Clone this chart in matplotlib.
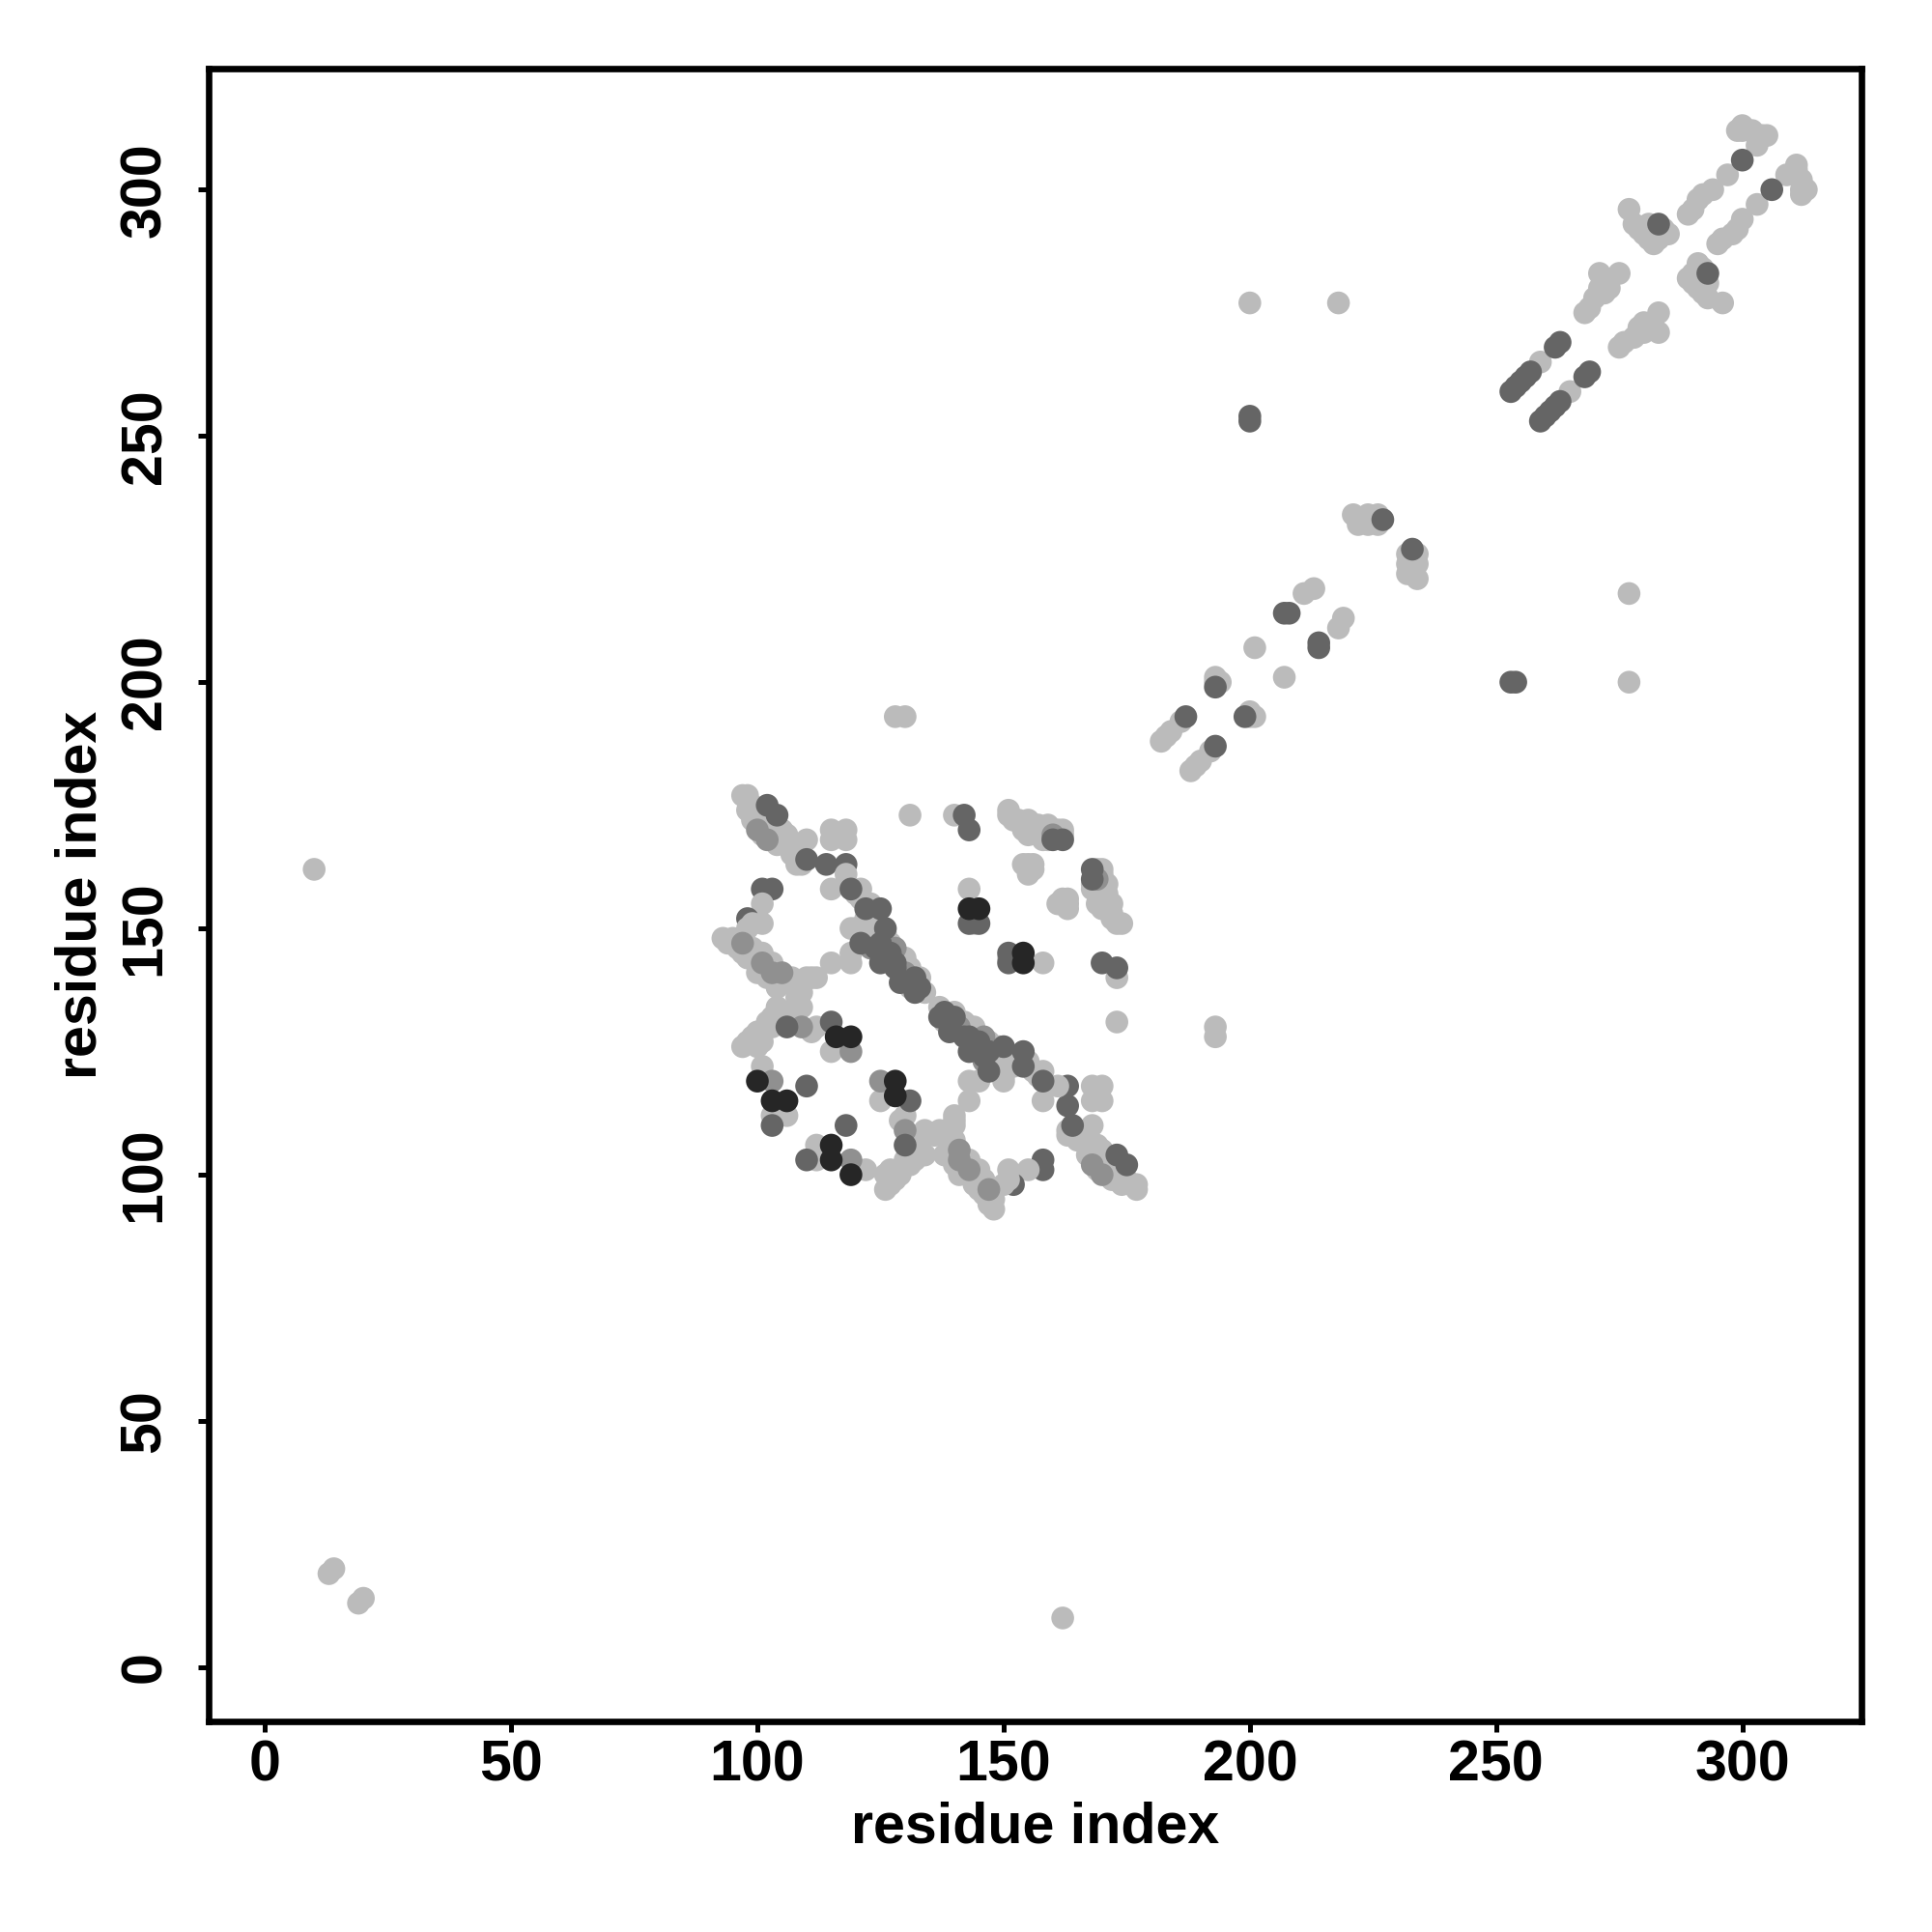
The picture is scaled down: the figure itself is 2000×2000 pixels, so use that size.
import matplotlib
matplotlib.use("Agg")
import matplotlib.pyplot as plt

# shade codes: 0 = light, 1 = mid, 2 = dark, 3 = black
shade_colors = ["#BBBBBB", "#909090", "#656565", "#262626"]

# contacts (residue i, residue j, shade) with i < j; the map is symmetric
sparse_contacts = [
    (10, 162, 0), (13, 19, 0), (14, 20, 0), (128, 193, 0), (130, 193, 0),
    (200, 253, 2), (200, 254, 2), (200, 277, 0), (218, 277, 0),
]

band_a = [
    (97, 177, 0), (98, 177, 0), (98, 176, 0), (99, 175, 0), (98, 174, 0), (100, 174, 0),
    (99, 172, 0), (100, 173, 0), (101, 171, 0), (102, 172, 0), (103, 171, 0),
    (101, 169, 0), (103, 170, 0), (104, 169, 0), (105, 170, 0), (104, 167, 0),
    (106, 169, 0), (106, 167, 0), (107, 166, 0), (108, 166, 0), (107, 165, 0),
    (109, 165, 0), (110, 168, 0), (109, 163, 0), (108, 163, 0), (102, 168, 1),
    (100, 170, 1), (102, 175, 2), (104, 173, 2), (110, 164, 2),
    (115, 170, 0), (118, 170, 0), (115, 168, 0), (118, 168, 0),
    (114, 163, 2), (118, 163, 2), (118, 161, 0), (131, 173, 0),
]

left_ring = [
    (101, 158, 2), (103, 158, 2), (101, 155, 0), (98, 152, 2), (99, 151, 0),
    (101, 151, 0), (98, 150, 0),
    (93, 148, 0), (94, 147, 0), (95, 148, 0), (96, 146, 0), (97, 145, 0), (98, 144, 0),
    (99, 146, 0), (101, 145, 0), (100, 141, 0), (103, 143, 0), (102, 140, 0),
    (104, 140, 0), (104, 138, 0), (106, 139, 0), (107, 140, 0), (108, 138, 0),
    (109, 137, 0), (110, 140, 0), (111, 140, 0), (108, 136, 0), (103, 141, 1),
    (101, 143, 1), (105, 141, 1), (97, 147, 1),
    (115, 158, 0), (115, 143, 0), (119, 143, 0), (119, 145, 0), (112, 140, 0), (119, 150, 0),
]

band_b = [
    (120, 157, 0), (121, 158, 0), (121, 156, 0), (123, 155, 0), (122, 152, 0),
    (124, 151, 0), (125, 148, 0), (127, 147, 0), (123, 149, 0), (120, 150, 0),
    (126, 149, 0), (122, 150, 0), (129, 143, 0), (130, 140, 0), (133, 140, 0),
    (131, 138, 0), (134, 137, 0), (130, 144, 0), (131, 142, 0),
    (123, 146, 1), (128, 146, 1), (130, 141, 1), (132, 139, 1),
    (119, 158, 2), (122, 154, 2), (125, 154, 2), (126, 150, 2), (121, 147, 2),
    (124, 146, 2), (126, 145, 2), (125, 143, 2), (127, 144, 2), (128, 142, 2),
    (129, 139, 2), (132, 140, 2), (133, 138, 2), (132, 137, 2), (125, 147, 2),
    (127, 145, 2), (128, 143, 2),
]

lower_ring = [
    (104, 134, 0), (105, 133, 0), (108, 133, 0), (102, 131, 0), (103, 132, 0),
    (107, 133, 0), (109, 134, 0), (105, 131, 0), (103, 130, 0), (101, 127, 0),
    (111, 129, 0), (112, 130, 0), (115, 125, 0), (100, 129, 0), (99, 128, 0),
    (98, 127, 0), (97, 126, 0), (100, 126, 0), (101, 122, 0), (103, 112, 0),
    (106, 112, 0),
    (109, 130, 1), (119, 125, 1), (103, 119, 1),
    (106, 130, 2), (115, 131, 2), (110, 118, 2), (103, 110, 2),
    (116, 128, 3), (119, 128, 3), (100, 119, 3), (103, 115, 3), (106, 115, 3),
]

upper_block = [
    (140, 173, 0), (143, 158, 0), (144, 151, 0), (151, 173, 0), (153, 172, 0),
    (155, 172, 0), (154, 170, 0), (155, 169, 0), (157, 171, 0), (159, 171, 0),
    (161, 170, 0), (162, 169, 0), (159, 168, 0), (157, 169, 0), (154, 163, 0),
    (155, 163, 0), (156, 163, 0), (155, 161, 0), (156, 162, 0), (152, 172, 0),
    (151, 174, 0), (158, 168, 0), (159, 170, 0), (162, 170, 0),
    (160, 169, 1),
    (142, 173, 2), (143, 170, 2), (143, 151, 2), (145, 151, 2), (162, 168, 2), (160, 168, 2),
    (143, 154, 3), (145, 154, 3),
]

diagonal_mid = [
    (182, 188, 0), (183, 189, 0), (184, 190, 0), (186, 192, 0), (193, 201, 0),
    (194, 200, 0), (193, 200, 0), (201, 207, 0), (211, 218, 0), (213, 219, 0),
    (221, 234, 0), (222, 232, 0), (223, 233, 0), (224, 234, 0), (225, 233, 0),
    (226, 234, 0), (222, 233, 0), (226, 232, 0), (224, 232, 0),
    (187, 193, 2), (193, 199, 2), (207, 214, 2), (208, 214, 2), (227, 233, 2),
]

diagonal_top = [
    (259, 265, 0), (268, 275, 0), (269, 276, 0), (270, 278, 0), (271, 280, 0),
    (272, 279, 0), (273, 280, 0), (271, 283, 0), (275, 283, 0), (277, 296, 0),
    (278, 293, 0), (279, 292, 0), (280, 291, 0), (281, 290, 0), (281, 293, 0),
    (282, 292, 0), (284, 292, 0), (285, 291, 0), (283, 290, 0), (282, 289, 0),
    (289, 295, 0), (290, 296, 0), (291, 298, 0), (292, 299, 0), (294, 300, 0),
    (297, 303, 0), (299, 312, 0), (300, 312, 0), (302, 312, 0), (303, 311, 0),
    (305, 311, 0), (303, 309, 0), (304, 311, 0), (300, 313, 0),
    (253, 259, 2), (254, 260, 2), (255, 261, 2), (256, 262, 2), (257, 263, 2),
    (262, 268, 2), (263, 269, 2), (283, 293, 2), (300, 306, 2),
]

x_ticks = [0, 50, 100, 150, 200, 250, 300]
y_ticks = [0, 50, 100, 150, 200, 250, 300]
axis_label = "residue index"

contacts = (sparse_contacts + band_a + left_ring + band_b + lower_ring
            + upper_block + diagonal_mid + diagonal_top)
xs, ys, cs = [], [], []
for i, j, s in contacts:
    xs += [i, j]
    ys += [j, i]
    cs += [shade_colors[s], shade_colors[s]]

plt.rcParams["font.family"] = ["Liberation Sans", "DejaVu Sans"]
plt.rcParams["font.weight"] = "bold"

fig = plt.figure(figsize=(10, 10), dpi=200)
ax = fig.add_axes([0.1078, 0.109, 0.9635 - 0.1078, 0.9643 - 0.109])
ax.scatter(xs, ys, s=72, c=cs, edgecolors="none", zorder=2)

ax.set_xlim(-11.5, 324.2)
ax.set_ylim(-11.0, 324.5)
ax.set_xticks(x_ticks)
ax.set_yticks(y_ticks)
ax.set_xticklabels([str(t) for t in x_ticks], fontsize=21.3, fontweight="bold")
ax.set_yticklabels([str(t) for t in y_ticks], fontsize=21.3, fontweight="bold",
                   rotation=90, va="center")
for sp in ax.spines.values():
    sp.set_linewidth(2.4)
ax.tick_params(axis="both", direction="out", length=4.0, width=1.8)
ax.tick_params(axis="x", pad=2.5)
ax.tick_params(axis="y", pad=9.5)

fig.text(0.5357, 1 - 1892 / 2000, axis_label, ha="center", va="center",
         fontsize=21.3, fontweight="bold")
fig.text(0.0418, 0.5367, axis_label, ha="center", va="center", rotation=90,
         fontsize=21.3, fontweight="bold")

fig.savefig("out.png", dpi=200, facecolor="white")
